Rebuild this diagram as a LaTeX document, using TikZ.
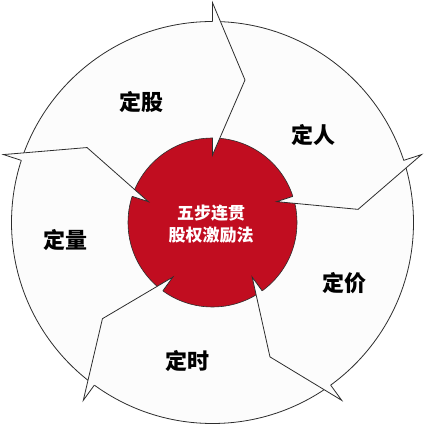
\documentclass[tikz,border=0pt]{standalone}
\usepackage{fontspec}
\newfontfamily\cjk{Noto Sans CJK SC}
\definecolor{ringfill}{RGB}{252,252,252}
\definecolor{hubred}{RGB}{193,13,32}
\definecolor{edge}{RGB}{45,45,45}
\begin{document}
\begin{tikzpicture}[x=1pt,y=1pt,
  ringline/.style={draw=edge,line width=0.8pt},
  headfill/.style={fill=ringfill},
  steplabel/.style={font=\cjk\bfseries\fontsize{22}{24}\selectfont,text=black,inner sep=0pt},
  hublabel/.style={font=\cjk\bfseries\fontsize{17}{22}\selectfont,text=white,align=center,inner sep=0pt}]
\useasboundingbox (0,0) rectangle (439,446);
\coordinate (C) at (212.5,223.5);
% ring
\fill[white] (0,0) rectangle (439,446);
\path[ringline,fill=ringfill] (C) circle[radius=201];
% hub
\path[ringline,fill=hubred,line width=0.6pt] (C) circle[radius=84.5];
% arrow heads
\foreach \r in {0,-72,-144,-216,-288}{
  \begin{scope}[shift={(C)},rotate=\r]
    \fill[headfill] (0,219.8) -- (32.5,142.5) -- (0,67.5) -- cycle;
    \draw[ringline,line join=miter] (0,201) -- (0,219.8) -- (32.5,142.5) -- (0,67.5) -- (0,84.5);
  \end{scope}
}
% labels
\node[steplabel] (gu)   at (141,344) {定股};
\node[steplabel] (ren)  at (313,311) {定人};
\node[steplabel] (liang) at (65.5,206) {定量};
\node[steplabel] (jia)  at (344,163) {定价};
\node[steplabel] (shi)  at (187.5,85) {定时};
\node[hublabel] (hub) at (211,222) {五步连贯\\股权激励法};
\end{tikzpicture}
\end{document}
